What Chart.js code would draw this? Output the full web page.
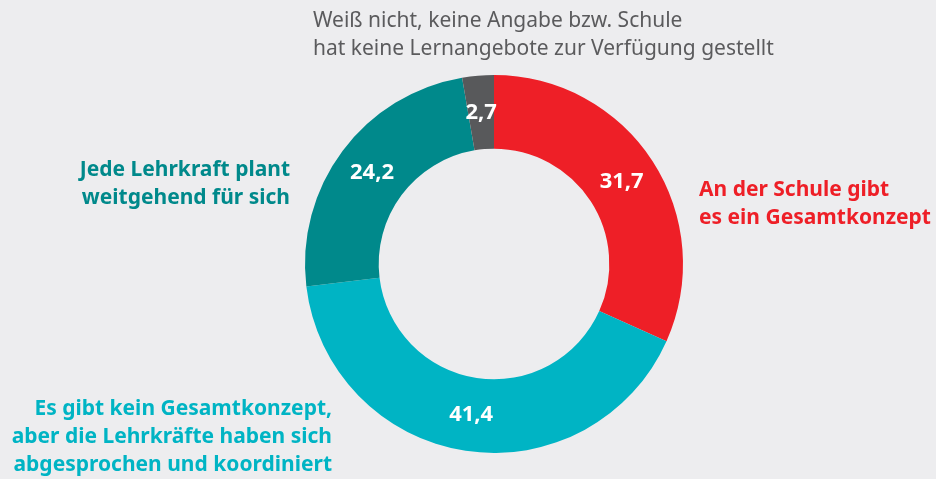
<!DOCTYPE html>
<html>
<head>
<meta charset="utf-8">
<script src="https://cdn.jsdelivr.net/npm/chart.js@4"></script>
<style>
  html, body { margin: 0; padding: 0; background: #ededef; }
  #wrap { width: 936px; height: 479px; position: relative; }
</style>
</head>
<body>
<div id="wrap"><canvas id="chart"></canvas></div>
<script>
// data (percent)
const categories = [
    ['An der Schule gibt', 'es ein Gesamtkonzept'],
    ['Es gibt kein Gesamtkonzept,', 'aber die Lehrkräfte haben sich', 'abgesprochen und koordiniert'],
    ['Jede Lehrkraft plant', 'weitgehend für sich'],
    ['Weiß nicht, keine Angabe bzw. Schule', 'hat keine Lernangebote zur Verfügung gestellt']
];
const values = [31.7, 41.4, 24.2, 2.7];
const colors = ['#ee1f27', '#00b4c4', '#00898b', '#58595b'];

// where the category captions sit: x, first baseline, alignment, weight, text colour
const captionSpots = [
    { x: 699, y: 196, align: 'left', bold: true, color: colors[0] },
    { x: 332, y: 415, align: 'right', bold: true, color: colors[1] },
    { x: 290, y: 176, align: 'right', bold: true, color: colors[2] },
    { x: 313, y: 27, align: 'left', bold: false, color: '#5b5b5d' }
];
const FONT = '"Noto Sans", Lato, sans-serif';

const labelPlugin = {
    id: 'labels',
    afterDraw(chart) {
        const ctx = chart.ctx;
        const meta = chart.getDatasetMeta(0);
        ctx.save();
        // values inside the ring
        ctx.fillStyle = '#fff';
        ctx.font = 'bold 22px ' + FONT;
        ctx.textAlign = 'center';
        ctx.textBaseline = 'middle';
        meta.data.forEach((arc, i) => {
            const p = arc.tooltipPosition();
            ctx.fillText(values[i].toFixed(1).replace('.', ','), p.x, p.y);
        });
        // captions
        ctx.textBaseline = 'alphabetic';
        categories.forEach((lines, i) => {
            const s = captionSpots[i];
            ctx.font = (s.bold ? 'bold 21px ' : '21px ') + FONT;
            ctx.fillStyle = s.color;
            ctx.textAlign = s.align;
            lines.forEach((t, j) => ctx.fillText(t, s.x, s.y + j * 28));
        });
        ctx.restore();
    }
};

new Chart(document.getElementById('chart'), {
    type: 'doughnut',
    data: {
        labels: categories.map(c => c.join(' ')),
        datasets: [{
            data: values,
            backgroundColor: colors,
            borderWidth: 0
        }]
    },
    options: {
        responsive: true,
        maintainAspectRatio: false,
        animation: false,
        cutout: '61%',
        layout: { padding: { left: 305, right: 253, top: 75, bottom: 26 } },
        plugins: {
            legend: { display: false },
            tooltip: { enabled: false }
        }
    },
    plugins: [labelPlugin]
});
</script>
</body>
</html>
